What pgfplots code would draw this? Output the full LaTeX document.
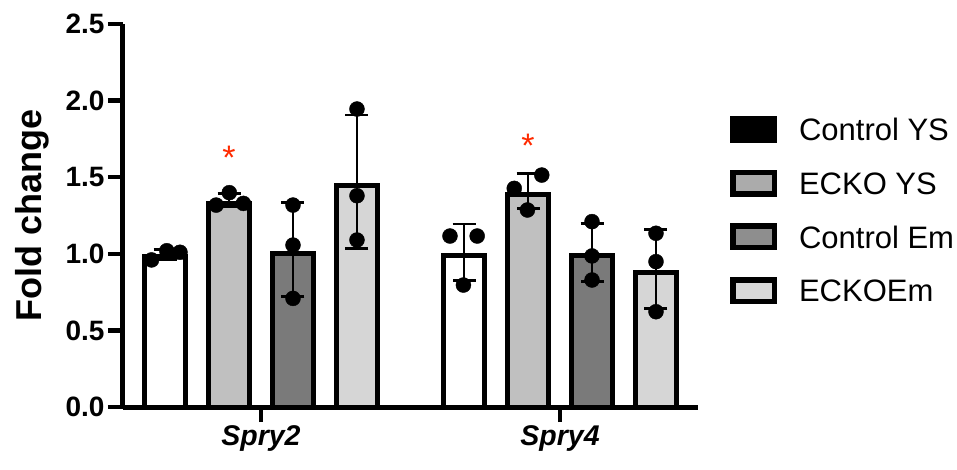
\documentclass[border=0pt]{standalone}
\usepackage{pgfplots}
\pgfplotsset{compat=1.18}
\usepackage{fontspec}
\setmainfont{Liberation Sans}
\definecolor{cA}{HTML}{FFFFFF}
\definecolor{cB}{HTML}{C0C0C0}
\definecolor{cC}{HTML}{7A7A7A}
\definecolor{cD}{HTML}{D6D6D6}
\definecolor{lB}{HTML}{ABABAB}
\definecolor{lC}{HTML}{8E8E8E}
\definecolor{lD}{HTML}{D9D9D9}
\definecolor{starred}{HTML}{FF2A00}
\pgfplotsset{
  mybar/.style={ybar, bar width=0.139, bar shift=0pt, draw=black, line width=5pt, forget plot},
  myerr/.style={draw=none, mark=none, forget plot,
  error bars/y dir=both, error bars/y explicit,
  error bars/error mark=|,
  error bars/error bar style={draw=black, line width=2.6pt},
  error bars/error mark options={draw=black, line width=2.8pt, mark size=11.5pt}}}
\begin{document}
\begin{tikzpicture}
\begin{axis}[
  at={(0,0)}, anchor=south west,
  scale only axis, width=575pt, height=383pt,
  xmin=-0.4615, xmax=1.4615, ymin=0, ymax=2.5,
  axis lines=left, axis line style={-, line width=5pt},
  clip=false,
  tick align=outside, major tick length=15pt,
  tick style={line width=4.5pt, black},
  xtick={0,1}, xticklabels={Spry2,Spry4},
  ytick={0,0.5,1,1.5,2,2.5},
  /pgf/number format/assume math mode=true,
  yticklabel style={font=\fontsize{28}{28}\selectfont\bfseries, /pgf/number format/.cd, fixed, fixed zerofill, precision=1},
  xticklabel style={font=\fontsize{28.5}{28.5}\selectfont\bfseries\itshape},
  ylabel={Fold change},
  ylabel style={font=\fontsize{36}{36}\selectfont\bfseries, at={(axis description cs:-0.157,0.5)}, anchor=center, inner sep=0pt},
  legend cell align=left,
  legend style={draw=none, fill=none, inner sep=0pt, outer sep=0pt,
    row sep=26.7pt, column sep=22pt,
    nodes={inner sep=0pt, text height=22.5pt, text depth=0pt},
    font=\fontsize{31}{31}\selectfont,
    at={(axis description cs:1.0557,0.7598)}, anchor=north west},
]
% bars (outer edge at the bar height)
\addplot[mybar, fill=cA] coordinates {(-0.321,0.983) (0.679,0.987)};
\addplot[mybar, fill=cB] coordinates {(-0.107,1.331) (0.893,1.385)};
\addplot[mybar, fill=cC] coordinates {(0.107,1.004) (1.107,0.987)};
\addplot[mybar, fill=cD] coordinates {(0.321,1.444) (1.321,0.878)};
% mean +- SD
\addplot[myerr] coordinates {
  (-0.321,0.997) +- (0,0.032) (0.679,1.010) +- (0,0.185)
  (-0.107,1.349) +- (0,0.044) (0.893,1.409) +- (0,0.115)
  (0.107,1.028) +- (0,0.306) (1.107,1.008) +- (0,0.190)
  (0.321,1.471) +- (0,0.435) (1.321,0.902) +- (0,0.259)};
% individual points
\addplot[only marks, mark=*, mark size=7.5pt, black, forget plot] coordinates {
  (-0.366,0.960) (-0.315,1.020) (-0.271,1.010)
  (-0.150,1.318) (-0.106,1.399) (-0.059,1.329)
  (0.107,1.318) (0.107,1.057) (0.107,0.709)
  (0.321,1.945) (0.321,1.379) (0.321,1.090)
  (0.632,1.116) (0.723,1.116) (0.677,0.796)
  (0.847,1.427) (0.939,1.514) (0.891,1.286)
  (1.107,1.210) (1.107,0.986) (1.107,0.829)
  (1.321,1.134) (1.321,0.949) (1.321,0.622)
};
% significance stars
\addplot[draw=none, mark=none, forget plot,
  nodes near coords={*},
  nodes near coords style={anchor=base, inner sep=0pt, text=starred, font=\fontsize{34}{34}\selectfont}]
  coordinates {(-0.107,1.55) (0.893,1.63)};
% legend
\addlegendimage{legend image code/.code={\draw[line width=5.5pt, draw=black, fill=black] (2.75pt,-10.75pt) rectangle (44.25pt,10.75pt);}}
\addlegendentry{Control YS}
\addlegendimage{legend image code/.code={\draw[line width=5.5pt, draw=black, fill=lB] (2.75pt,-10.75pt) rectangle (44.25pt,10.75pt);}}
\addlegendentry{ECKO YS}
\addlegendimage{legend image code/.code={\draw[line width=5.5pt, draw=black, fill=lC] (2.75pt,-10.75pt) rectangle (44.25pt,10.75pt);}}
\addlegendentry{Control Em}
\addlegendimage{legend image code/.code={\draw[line width=5.5pt, draw=black, fill=lD] (2.75pt,-10.75pt) rectangle (44.25pt,10.75pt);}}
\addlegendentry{ECKOEm}
\end{axis}
\pgfresetboundingbox
\path[use as bounding box] (-123pt,-62pt) rectangle (834pt,407pt);
\end{tikzpicture}
\end{document}
